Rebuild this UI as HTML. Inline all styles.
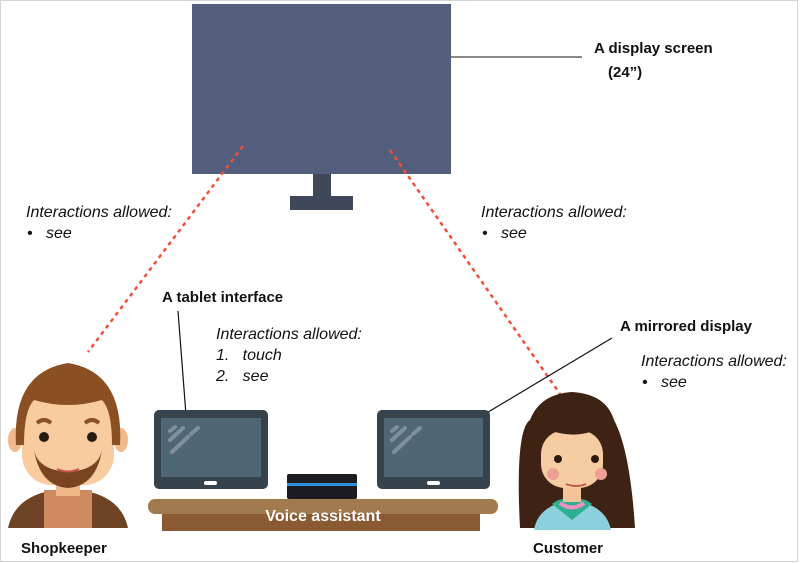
<!DOCTYPE html>
<html><head><meta charset="utf-8"><style>
html,body{margin:0;padding:0;background:#fff}
svg{display:block}
text{font-family:"Liberation Sans",sans-serif;fill:#111}
.i{font-style:italic;font-size:16px}
.b{font-weight:bold;font-size:15px}
</style></head><body>
<svg width="800" height="563" viewBox="0 0 800 563">
<rect x="0.5" y="0.5" width="797" height="561" fill="#fff" stroke="#d4d4d4"/>
<rect x="192" y="4" width="259" height="170" fill="#535e7c"/>
<rect x="313" y="174" width="18" height="22" fill="#3f475a"/>
<rect x="290" y="196" width="63" height="14" fill="#3f475a"/>
<line x1="243" y1="146" x2="88" y2="352" stroke="#f0503a" stroke-width="2.5" stroke-dasharray="4,4"/>
<line x1="390" y1="150" x2="560" y2="394" stroke="#f0503a" stroke-width="2.5" stroke-dasharray="4,4"/>
<line x1="451" y1="57" x2="582" y2="57" stroke="#444" stroke-width="1.2"/>
<line x1="178" y1="311" x2="187" y2="428" stroke="#111" stroke-width="1.2"/>
<line x1="612" y1="338" x2="453" y2="433" stroke="#111" stroke-width="1.2"/>
<text class="b" x="594" y="53">A display screen</text>
<text class="b" x="608" y="77">(24”)</text>
<text class="i" x="26" y="217">Interactions allowed:</text>
<text class="i" x="27" y="238">•&#160;&#160;&#160;see</text>
<text class="i" x="481" y="217">Interactions allowed:</text>
<text class="i" x="482" y="238">•&#160;&#160;&#160;see</text>
<text class="b" x="162" y="302">A tablet interface</text>
<text class="i" x="216" y="339">Interactions allowed:</text>
<text class="i" x="216" y="360">1.&#160;&#160;&#160;touch</text>
<text class="i" x="216" y="381">2.&#160;&#160;&#160;see</text>
<text class="b" x="620" y="331">A mirrored display</text>
<text class="i" x="641" y="366">Interactions allowed:</text>
<text class="i" x="642" y="387">•&#160;&#160;&#160;see</text>
<rect x="162" y="512" width="318" height="19" fill="#8a5a33"/>
<rect x="148" y="499" width="350" height="15" rx="7" fill="#a17a4d"/>
<rect x="287" y="474" width="70" height="25" rx="2" fill="#1c1c22"/>
<rect x="287" y="483" width="70" height="3" fill="#2f8fd8"/>
<text x="323" y="521" text-anchor="middle" style="font-weight:bold;font-size:16px;fill:#fff">Voice assistant</text>
<g>
<rect x="154" y="410" width="114" height="79" rx="5" fill="#36434d"/>
<rect x="161" y="418" width="100" height="59" fill="#4f6675"/>
<rect x="204" y="481" width="13" height="4" rx="2" fill="#fff"/>
<g stroke="#7d909c" stroke-width="4" stroke-linecap="round"><line x1="170" y1="440" x2="183" y2="428"/><line x1="172" y1="452" x2="188" y2="437"/><line x1="191" y1="434" x2="198" y2="428"/><line x1="170" y1="431" x2="175" y2="427"/></g>
</g>
<g>
<rect x="377" y="410" width="113" height="79" rx="5" fill="#36434d"/>
<rect x="384" y="418" width="99" height="59" fill="#4f6675"/>
<rect x="427" y="481" width="13" height="4" rx="2" fill="#fff"/>
<g stroke="#7d909c" stroke-width="4" stroke-linecap="round"><line x1="392" y1="440" x2="405" y2="428"/><line x1="394" y1="452" x2="410" y2="437"/><line x1="413" y1="434" x2="420" y2="428"/><line x1="392" y1="431" x2="397" y2="427"/></g>
</g>
<g>
<path d="M8 528 Q14 500 45 492 L90 492 Q122 500 128 528 Z" fill="#6e4424"/>
<rect x="44" y="490" width="48" height="38" fill="#d08a62"/>
<rect x="56" y="470" width="24" height="26" fill="#f0b98a"/>
<ellipse cx="15" cy="440" rx="7" ry="12" fill="#f2b98d"/>
<ellipse cx="121" cy="440" rx="7" ry="12" fill="#f2b98d"/>
<rect x="22" y="390" width="92" height="95" rx="30" fill="#f8cc9e"/>
<path d="M16 445 Q12 372 68 363 Q124 372 120 445 L112 445 Q112 410 102 400 Q68 410 34 400 Q24 410 24 445 Z" fill="#8b4f24"/>
<path d="M34 450 Q40 486 68 488 Q96 486 102 450 Q98 470 68 472 Q38 470 34 450 Z" fill="#7a4420"/>
<circle cx="44" cy="437" r="5" fill="#2a1a14"/><circle cx="92" cy="437" r="5" fill="#2a1a14"/>
<path d="M37 423 Q44 417 51 423" stroke="#8b4f24" stroke-width="4" fill="none"/>
<path d="M85 423 Q92 417 99 423" stroke="#8b4f24" stroke-width="4" fill="none"/>
<path d="M57 469 Q68 474 79 469" stroke="#c8554a" stroke-width="2" fill="none"/>
</g>
<text class="b" x="21" y="553">Shopkeeper</text>
<g>
<path d="M520 528 Q515 430 530 420 Q540 394 572 392 Q606 394 614 420 Q630 450 635 528 Z" fill="#3e2213"/>
<path d="M534 530 Q538 505 572 500 Q606 505 611 530 Z" fill="#8cd0de"/>
<path d="M552 504 L572 520 L592 504 Q585 498 572 498 Q559 498 552 504 Z" fill="#2db08f"/>
<path d="M560 503 Q572 512 584 503" stroke="#f08fc0" stroke-width="4" fill="none"/>
<rect x="563" y="478" width="18" height="24" fill="#f3c49a"/>
<rect x="541" y="430" width="62" height="58" rx="24" fill="#f6cda2"/>
<path d="M538 448 Q538 410 572 410 Q606 410 606 448 Q600 432 590 432 Q572 438 548 430 Q540 436 538 448 Z" fill="#3e2213"/>
<circle cx="558" cy="459" r="4" fill="#2a1a14"/><circle cx="595" cy="459" r="4" fill="#2a1a14"/>
<circle cx="553" cy="474" r="6" fill="#eda093"/><circle cx="601" cy="474" r="6" fill="#eda093"/>
<path d="M566 484 Q576 488 586 484" stroke="#c8554a" stroke-width="2" fill="none"/>
</g>
<text class="b" x="533" y="553">Customer</text>
</svg>
</body></html>
